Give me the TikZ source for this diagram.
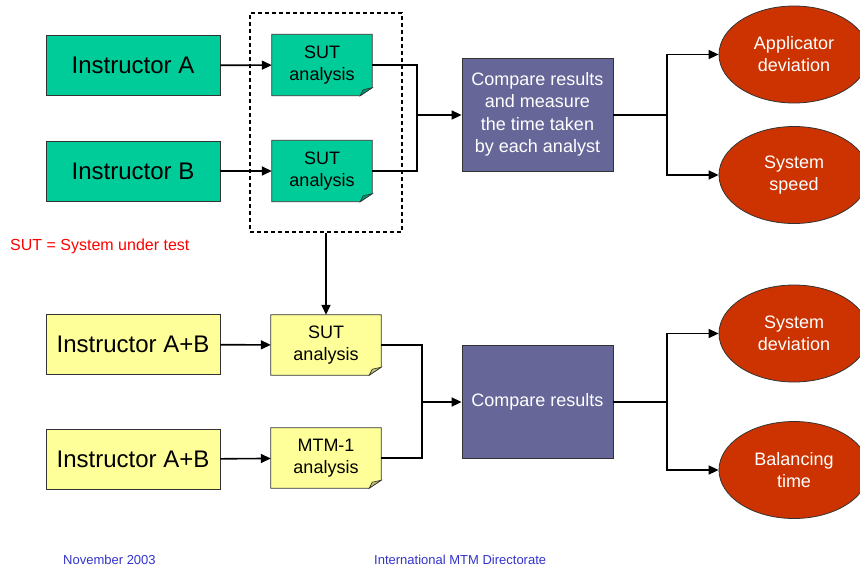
\documentclass[tikz,border=0pt]{standalone}
\usepackage{fontspec}
\setmainfont{Liberation Sans}
\usetikzlibrary{shapes.geometric,arrows.meta,backgrounds}
\definecolor{boxgreen}{HTML}{00CC99}
\definecolor{boxyellow}{HTML}{FFFF99}
\definecolor{boxpurple}{HTML}{666699}
\definecolor{ellred}{HTML}{CC3300}
\definecolor{footblue}{HTML}{3333CC}
\definecolor{notered}{HTML}{FF0000}
\definecolor{edgegray}{HTML}{333333}
\newcommand\foldshape[3]{%
  \filldraw[fill=#2,draw=edgegray,line width=0.8pt] (#1.north west) -- (#1.north east) -- ([yshift=8pt]#1.south east) -- ([xshift=-12pt]#1.south east) -- (#1.south west) -- cycle;
  \filldraw[fill=#3,draw=edgegray,line width=0.6pt] ([yshift=8pt]#1.south east) -- ([xshift=-12pt]#1.south east) -- ([xshift=-9pt,yshift=6pt]#1.south east) -- cycle;}
\tikzset{
  instbox/.style={draw=edgegray,line width=0.8pt,minimum width=174pt,minimum height=60pt,inner sep=0pt,font=\fontsize{24}{28}\selectfont},
  foldbox/.style={minimum height=61pt,inner sep=0pt,align=center,font=\fontsize{18}{21.5}\selectfont},
  cmpbox/.style={draw=edgegray,line width=0.8pt,fill=boxpurple,text=white,minimum width=151pt,minimum height=113pt,inner sep=0pt,align=center,font=\fontsize{18}{22.5}\selectfont},
  outell/.style={ellipse,draw=edgegray,line width=0.8pt,fill=ellred,text=white,minimum width=150pt,minimum height=97pt,inner sep=0pt,align=center,font=\fontsize{18}{22}\selectfont},
  conn/.style={line width=1.6pt,draw=black},
  arr/.style={conn,-{Triangle[length=10pt,width=9pt]}},
  footer/.style={text=footblue,font=\fontsize{13}{15}\selectfont,inner sep=0pt}
}
\begin{document}
\begin{tikzpicture}[x=1pt,y=-1pt]
\useasboundingbox (0,0) rectangle (860,566);
% top row
\node[instbox,fill=boxgreen] (iA) at (133,65.5) {Instructor A};
\node[instbox,fill=boxgreen] (iB) at (133,171) {Instructor B};
\node[foldbox,minimum width=100pt] (sut1) at (322,65) {SUT\\analysis};
\node[foldbox,minimum width=100pt] (sut2) at (322,171) {SUT\\analysis};
\node[draw=black,line width=1.5pt,dash pattern=on 4pt off 3pt,minimum width=152pt,minimum height=219pt,inner sep=0pt] (grp) at (326,122.5) {};
\node[cmpbox] (cmp1) at (537.5,114.5) {Compare results\\and measure\\the time taken\\by each analyst};
\node[outell] (e1) at (794,54.5) {Applicator\\deviation};
\node[outell] (e2) at (794,175) {System\\speed};
\node[anchor=west,text=notered,font=\fontsize{16}{18}\selectfont,inner sep=0pt] (note) at (10,246) {SUT = System under test};
% bottom row
\node[instbox,fill=boxyellow] (iAB1) at (133,344.5) {Instructor A+B};
\node[instbox,fill=boxyellow] (iAB2) at (133,459.5) {Instructor A+B};
\node[foldbox,minimum width=110pt,minimum height=60pt] (sut3) at (326,345) {SUT\\analysis};
\node[foldbox,minimum width=110pt,minimum height=60pt] (mtm) at (326,458) {MTM-1\\analysis};
\node[cmpbox] (cmp2) at (537.5,401.5) {Compare results};
\node[outell] (e3) at (794,333.5) {System\\deviation};
\node[outell] (e4) at (794,470) {Balancing\\time};
% footer
\node[footer,anchor=west] (f1) at (63,560) {November 2003};
\node[footer,anchor=west] (f2) at (374,560) {International MTM Directorate};
% background and folded shapes behind text
\begin{scope}[on background layer]
\fill[white] (0,0) rectangle (860,566);
\foldshape{sut1}{boxgreen}{boxgreen!75!black}
\foldshape{sut2}{boxgreen}{boxgreen!75!black}
\foldshape{sut3}{boxyellow}{boxyellow!75!black}
\foldshape{mtm}{boxyellow}{boxyellow!75!black}
\end{scope}
% junctions
\coordinate (j1) at (417,115);
\coordinate (j2) at (667,115);
\coordinate (j3) at (422,402);
\coordinate (j4) at (667,402);
% connectors top
\draw[arr] (iA) -- (sut1);
\draw[arr] (iB) -- (sut2);
\draw[conn] (sut1.east) -| (j1);
\draw[conn] (sut2.east) -| (j1);
\draw[arr] (j1) -- (j1 -| cmp1.west);
\draw[conn] (cmp1.east |- j2) -- (j2);
\draw[arr] (j2) |- (e1);
\draw[arr] (j2) |- (e2);
\draw[arr] (grp.south) -- (sut3.north);
% connectors bottom
\draw[arr] (iAB1) -- (sut3);
\draw[arr] (iAB2) -- (mtm);
\draw[conn] (sut3.east) -| (j3);
\draw[conn] (mtm.east) -| (j3);
\draw[arr] (j3) -- (j3 -| cmp2.west);
\draw[conn] (cmp2.east |- j4) -- (j4);
\draw[arr] (j4) |- (e3);
\draw[arr] (j4) |- (e4);
\end{tikzpicture}
\end{document}
